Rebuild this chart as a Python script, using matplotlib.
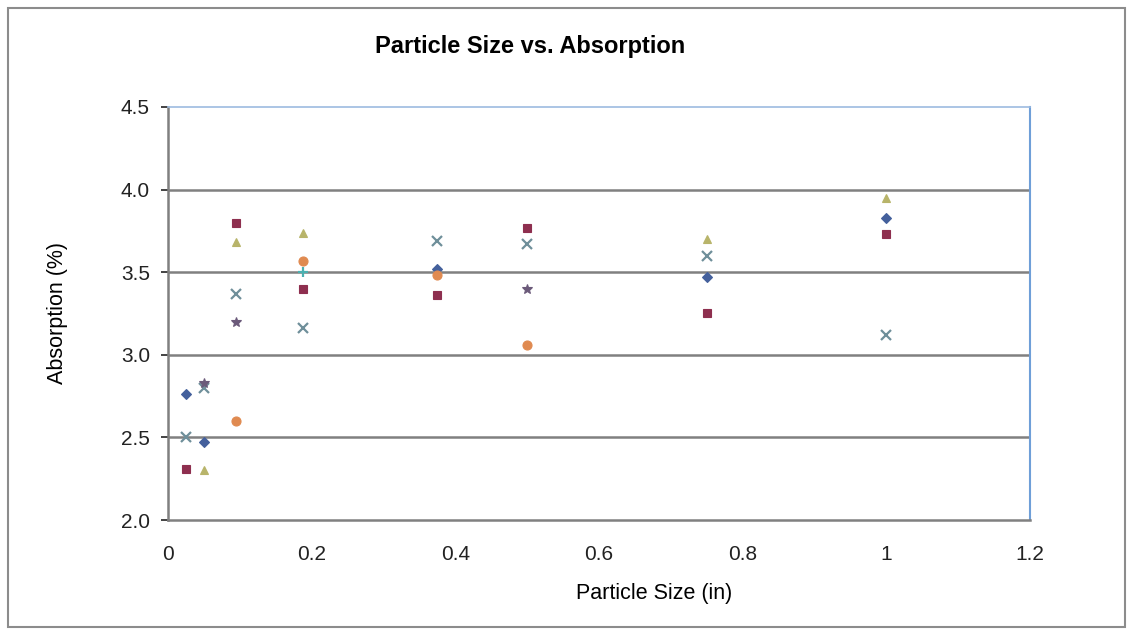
import numpy as np
import matplotlib.pyplot as plt
from matplotlib.patches import Rectangle

plt.rcParams['font.family'] = ['Liberation Sans', 'DejaVu Sans']

# particle sizes (in) tested
sizes = [0.025, 0.05, 0.094, 0.1875, 0.375, 0.5, 0.75, 1.0]
nan = np.nan

# absorption (%) per trial, NaN where no reading was taken
trial_1 = [2.76, 2.47, nan, nan, 3.52, nan, 3.47, 3.83]
trial_2 = [2.31, nan, 3.80, 3.40, 3.36, 3.77, 3.25, 3.73]
trial_3 = [nan, 2.30, 3.68, 3.74, nan, nan, 3.70, 3.95]
trial_4 = [2.50, 2.80, 3.37, 3.16, 3.69, 3.67, 3.60, 3.12]
trial_5 = [nan, 2.83, 3.20, nan, nan, 3.40, nan, nan]
trial_6 = [nan, nan, 2.60, 3.57, 3.48, 3.06, nan, nan]
trial_7 = [nan, nan, nan, 3.50, nan, nan, nan, nan]

trials = [trial_1, trial_2, trial_3, trial_4, trial_5, trial_6, trial_7]
markers = ['D', 's', '^', 'x', '*', 'o', '+']
colors = ['#44609c', '#8e2f4f', '#b8b46a', '#6f8f9a', '#6b5a7a', '#e08a50', '#4bb0b0']
msizes = [5.5, 6, 6, 6.5, 7.5, 6.5, 7.5]

fig = plt.figure(figsize=(11.33, 6.3), dpi=100)
fig.patches.append(Rectangle((8 / 1133, 3 / 630), 1117 / 1133, 619 / 630,
                             transform=fig.transFigure, fill=False,
                             edgecolor='#8c8c8c', linewidth=1.5))

ax = fig.add_axes([0.1483, 0.1746, 0.7608, 0.6556])

for vals, m, c, ms in zip(trials, markers, colors, msizes):
    ax.plot(sizes, vals, linestyle='none', marker=m, color=c,
            markersize=ms, markeredgewidth=1.6 if m in 'x+' else 0.8)

ax.set_xlim(0, 1.2)
ax.set_ylim(2.0, 4.5)
ax.set_xticks(np.arange(0, 1.21, 0.2))
ax.set_xticklabels(['0', '0.2', '0.4', '0.6', '0.8', '1', '1.2'])
ax.set_yticks(np.arange(2.0, 4.51, 0.5))
ax.set_yticklabels(['%.1f' % v for v in np.arange(2.0, 4.51, 0.5)])
ax.tick_params(labelsize=15, colors='#222222', length=5, width=1.2,
               direction='out', pad=8)
ax.tick_params(axis='x', length=0, pad=18)

for y in [2.5, 3.0, 3.5, 4.0]:
    ax.axhline(y, color='#808080', linewidth=1.8, zorder=0)

ax.spines['left'].set_color('#808080')
ax.spines['left'].set_linewidth(1.8)
ax.spines['bottom'].set_color('#808080')
ax.spines['bottom'].set_linewidth(1.8)
ax.spines['top'].set_color('#9dbbe0')
ax.spines['top'].set_linewidth(1.2)
ax.spines['right'].set_color('#6f9fd8')
ax.spines['right'].set_linewidth(1.5)

ax.set_ylabel('Absorption (%)', fontsize=15.5, labelpad=38)
fig.text(654 / 1133, 1 - 593 / 630, 'Particle Size (in)', fontsize=15.5,
         ha='center', va='center')
fig.text(530 / 1133, 1 - 47 / 630, 'Particle Size vs. Absorption',
         fontsize=17, fontweight='bold', ha='center', va='center')

fig.savefig('out.png', dpi=100)
